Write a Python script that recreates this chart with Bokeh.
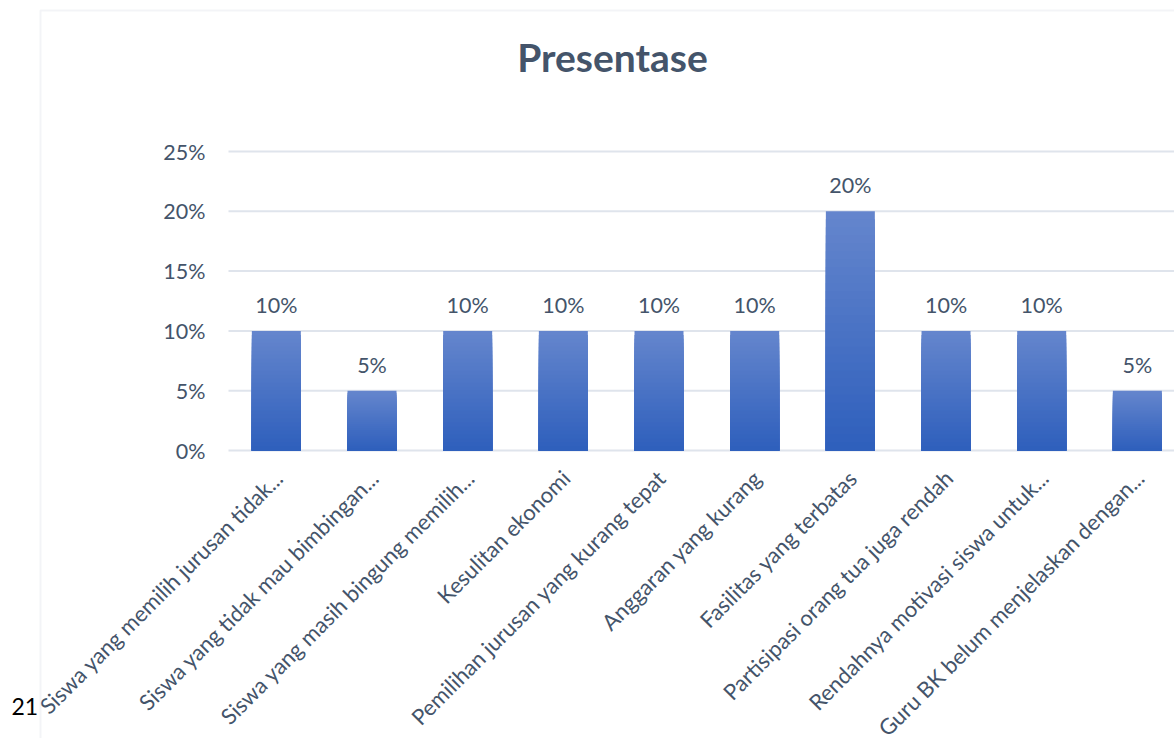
import math
from bokeh.plotting import figure
from bokeh.models import Range1d, PolyAnnotation, ColumnDataSource
from bokeh.core.properties import value
from bokeh.embed import file_html
from bokeh.resources import INLINE

categories = [
    "Siswa yang memilih jurusan tidak...",
    "Siswa yang tidak mau bimbingan...",
    "Siswa yang masih bingung memilih...",
    "Kesulitan ekonomi",
    "Pemilihan jurusan yang kurang tepat",
    "Anggaran yang kurang",
    "Fasilitas yang terbatas",
    "Partisipasi orang tua juga rendah",
    "Rendahnya motivasi siswa untuk...",
    "Guru BK belum menjelaskan dengan...",
]
values = [0.10, 0.05, 0.10, 0.10, 0.10, 0.10, 0.20, 0.10, 0.10, 0.05]
y_ticks = [0.0, 0.05, 0.10, 0.15, 0.20, 0.25]
y_tick_labels = ["0%", "5%", "10%", "15%", "20%", "25%"]
title_text = "Presentase"
page_number = "21"

FONT = "Lato"
TXT = "#44546a"
GRID = "#dfe4ec"
W, H = 1174, 738

# layout of the plotting area in page pixels
PLOT_LEFT = 228
PLOT_TOP_PX = 151      # pixel row of the top tick
PLOT_BOTTOM_PX = 450   # pixel row of zero
CAT_PX = 95.67
BAR_W = 0.512
PX_PER_UNIT = (PLOT_BOTTOM_PX - PLOT_TOP_PX) / y_ticks[-1]


def xd(px):
    return (px - PLOT_LEFT) / CAT_PX - 0.5


def yd(py):
    return (PLOT_BOTTOM_PX - py) / PX_PER_UNIT


# the whole canvas is the plotting frame so that the long rotated labels can run
# off the page bottom exactly like the reference
p = figure(width=W, height=H, output_backend="svg", toolbar_location=None,
           x_range=Range1d(xd(0), xd(W)), y_range=Range1d(yd(H), yd(0)),
           min_border=0, outline_line_color=None)
p.background_fill_color = "white"
p.border_fill_color = "white"
p.axis.visible = False
p.grid.grid_line_color = None

idx = list(range(len(categories)))

# horizontal gridlines
p.segment(x0=xd(PLOT_LEFT), x1=xd(W + 10), y0=y_ticks, y1=y_ticks,
          line_color=GRID, line_width=2)

# y tick labels
p.text(x=xd(205), y=y_ticks, text=y_tick_labels, text_align="right", text_baseline="middle",
       text_font=value(FONT), text_font_size="21.5px", text_color=TXT)

# gradient bars: overlapping quads, tallest (light) first, darker shorter on top
top_c = (0x65, 0x86, 0xcd)
bot_c = (0x2e, 0x5f, 0xbc)
N = 30
for k in range(N):
    frac = 1 - k / N
    t = (k + 0.5) / N
    col = tuple(int(round(top_c[j] + (bot_c[j] - top_c[j]) * t)) for j in range(3))
    p.quad(left=[i - BAR_W / 2 for i in idx], right=[i + BAR_W / 2 for i in idx],
           bottom=0, top=[v * frac for v in values],
           fill_color="#%02x%02x%02x" % col, line_color=None)

# data labels
src = ColumnDataSource(dict(x=idx, y=values, t=["%d%%" % round(v * 100) for v in values]))
p.text(x="x", y="y", text="t", source=src, text_align="center", text_baseline="alphabetic",
       y_offset=-26, text_font=value(FONT), text_font_size="21.5px", text_color=TXT)

# category labels rotated 45 degrees
p.text(x=idx, y=[0] * len(idx), text=categories, angle=math.pi / 4,
       text_align="right", text_baseline="top", x_offset=-7, y_offset=14,
       text_font=value(FONT), text_font_size="22px", text_color=TXT)

# title
p.text(x=[xd(612)], y=[yd(56)], text=[title_text], text_align="center",
       text_baseline="alphabetic", text_font=value(FONT), text_font_size="39px",
       text_font_style="bold", text_color=TXT)

# page number
p.text(x=[xd(11)], y=[yd(706)], text=[page_number], text_align="left",
       text_baseline="alphabetic", text_font=value(FONT), text_font_size="23px",
       text_color="black")

# chart area border (left and top edges; the rest lies outside the page)
p.add_layout(PolyAnnotation(xs=[40, 40, 1400, 1400], ys=[-100, H - 10, H - 10, -100],
                            xs_units="screen", ys_units="screen",
                            fill_alpha=0, line_color="#d6dce5", line_width=2))

open("out.html", "w").write(file_html(p, INLINE))
